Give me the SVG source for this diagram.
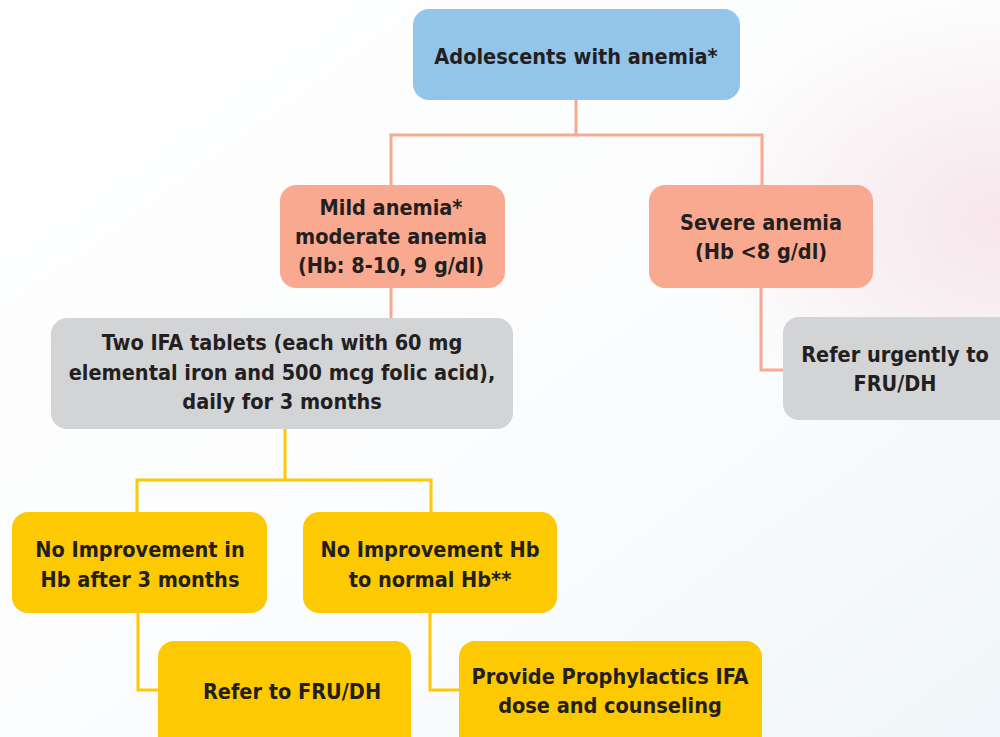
<svg xmlns="http://www.w3.org/2000/svg" width="1000" height="737" viewBox="0 0 1000 737">
<defs>
<linearGradient id="bg" x1="0" y1="0" x2="1" y2="1">
<stop offset="0" stop-color="#ffffff"/>
<stop offset="0.6" stop-color="#fbfcfd"/>
<stop offset="1" stop-color="#f0f6f9"/>
</linearGradient>
<radialGradient id="pink" cx="1" cy="0.3" r="0.3">
<stop offset="0" stop-color="#f7e6ec"/>
<stop offset="1" stop-color="#f7e6ec" stop-opacity="0"/>
</radialGradient>
<style>
text{font-family:"DejaVu Sans Condensed","DejaVu Sans",sans-serif;font-weight:bold;font-size:21.5px;fill:#231f20;text-anchor:middle}
.blue{fill:#93c5eb}
.salmon{fill:#f9a98f}
.gray{fill:#d3d4d6}
.yellow{fill:#fdc902}
.ls{fill:none;stroke:#f9a98f;stroke-width:3}
.ly{fill:none;stroke:#fdc902;stroke-width:3}
</style>
</defs>
<rect width="1000" height="737" fill="url(#bg)"/>
<rect width="1000" height="737" fill="url(#pink)"/>
<g id="connectors">
<path class="ls" d="M576 100V135M391 185V135H762V185"/>
<path class="ls" d="M391 288V318"/>
<path class="ls" d="M761 288V370H783"/>
<path class="ly" d="M285 429V480M137 512V480H431V512"/>
<path class="ly" d="M138 613V690H158"/>
<path class="ly" d="M430 613V690H459"/>
</g>
<g id="n-adolescents"><rect class="blue" x="413" y="9" width="327" height="91" rx="16"/><text x="576" y="64">Adolescents with anemia*</text></g>
<g id="n-mild"><rect class="salmon" x="280" y="185" width="225" height="103" rx="16"/><text x="391" y="215">Mild anemia*</text><text x="391" y="244">moderate anemia</text><text x="391" y="273">(Hb: 8-10, 9 g/dl)</text></g>
<g id="n-severe"><rect class="salmon" x="649" y="185" width="224" height="103" rx="16"/><text x="761" y="230">Severe anemia</text><text x="761" y="259">(Hb &lt;8 g/dl)</text></g>
<g id="n-ifa"><rect class="gray" x="51" y="318" width="462" height="111" rx="16"/><text x="282" y="350">Two IFA tablets (each with 60 mg</text><text x="282" y="380">elemental iron and 500 mcg folic acid),</text><text x="282" y="409">daily for 3 months</text></g>
<g id="n-urgent"><rect class="gray" x="783" y="317" width="240" height="103" rx="16"/><text x="895" y="362">Refer urgently to</text><text x="895" y="391">FRU/DH</text></g>
<g id="n-noimp1"><rect class="yellow" x="12" y="512" width="255" height="101" rx="16"/><text x="140" y="557">No Improvement in</text><text x="140" y="587">Hb after 3 months</text></g>
<g id="n-noimp2"><rect class="yellow" x="303" y="512" width="254" height="101" rx="16"/><text x="430" y="557">No Improvement Hb</text><text x="430" y="587">to normal Hb**</text></g>
<g id="n-refer"><rect class="yellow" x="158" y="641" width="253" height="120" rx="16"/><text x="292" y="699">Refer to FRU/DH</text></g>
<g id="n-provide"><rect class="yellow" x="459" y="641" width="303" height="120" rx="16"/><text x="610" y="684">Provide Prophylactics IFA</text><text x="610" y="713">dose and counseling</text></g>
</svg>
